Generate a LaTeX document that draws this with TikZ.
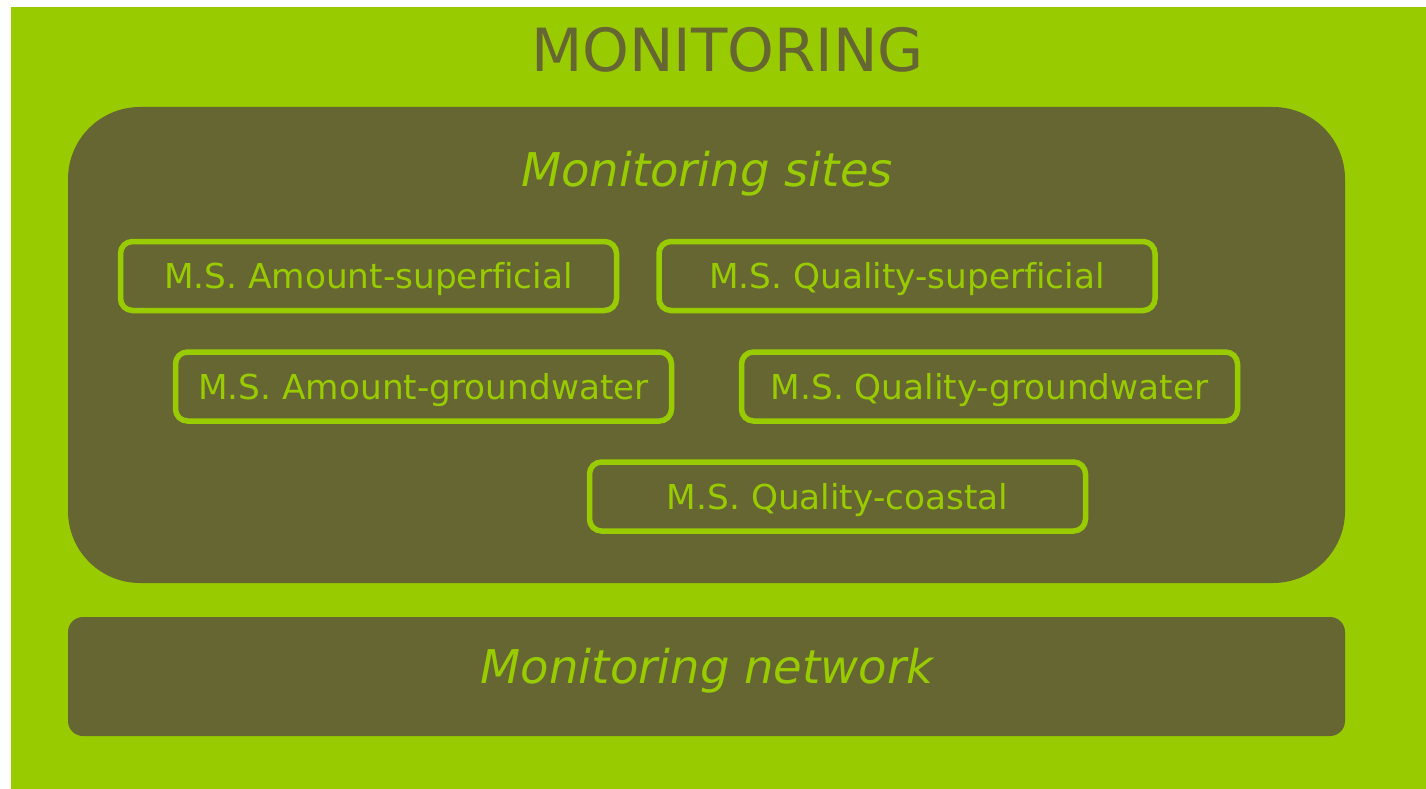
\documentclass[tikz,border=0pt]{standalone}
\usepackage{fontspec}
\setmainfont[Ligatures=CommonOff]{DejaVu Sans}
\definecolor{lime}{HTML}{99CC00}
\definecolor{olive}{HTML}{666633}
\tikzset{
  sitebox/.style={draw=lime, line width=5.5pt, rounded corners=12pt, fill=olive,
    minimum width=496pt, minimum height=69pt, inner sep=0pt, text=lime,
    font=\fontsize{34.3}{40}\selectfont, text height=25pt, text depth=0pt},
  panel/.style={fill=olive, draw=none},
  heading/.style={anchor=base, text=lime, font=\fontsize{46.5}{54}\selectfont\itshape, inner sep=0pt}
}
\begin{document}
\begin{tikzpicture}[x=1pt,y=-1pt]
  \useasboundingbox (0,0) rectangle (1426,789);
  \fill[white] (0,0) rectangle (1426,789);
  \fill[lime] (11,7) rectangle (1426,789);
  \node[anchor=base, text=olive, font=\fontsize{59.5}{70}\selectfont, inner sep=0pt] (title) at (727.5,72) {MONITORING};
  \path[panel, rounded corners=72pt] (68,107) rectangle (1345,583);
  \node[heading] (sitestitle) at (707,186) {Monitoring sites};
  \node[sitebox] (b1) at (368.5,276) {M.S. Amount-superficial};
  \node[sitebox] (b2) at (907,276) {M.S. Quality-superficial};
  \node[sitebox] (b3) at (423.5,386.5) {M.S. Amount-groundwater};
  \node[sitebox] (b4) at (989.5,386.5) {M.S. Quality-groundwater};
  \node[sitebox] (b5) at (837.5,496.5) {M.S. Quality-coastal};
  \path[panel, rounded corners=15pt] (68,617) rectangle (1345,736);
  \node[heading] (network) at (707,683) {Monitoring network};
\end{tikzpicture}
\end{document}
